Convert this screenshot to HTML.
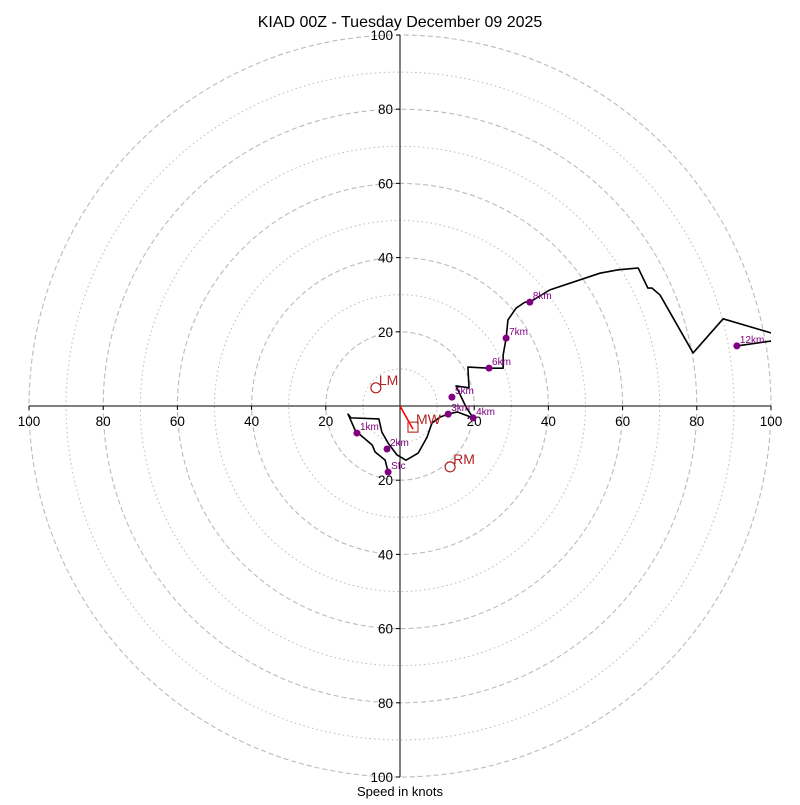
<!DOCTYPE html>
<html><head><meta charset="utf-8"><style>
body{margin:0;background:#fff;}
svg text{font-family:"Liberation Sans","DejaVu Sans",sans-serif;}
</style></head><body>
<svg id="c" width="800" height="800" viewBox="0 0 800 800">
<defs><clipPath id="clip"><rect x="29" y="35" width="742" height="742"/></clipPath></defs>
<rect width="800" height="800" fill="#fff"/>
<text x="400" y="27" font-size="16" text-anchor="middle">KIAD 00Z - Tuesday December 09 2025</text>
<text x="400" y="796" font-size="13" text-anchor="middle">Speed in knots</text>
<g id="rings"></g><g id="axes"></g>
<g id="trace" clip-path="url(#clip)"></g><g id="marks"></g>
</svg>
<script>
const NS="http://www.w3.org/2000/svg";
const ringSpeeds=[10,20,30,40,50,60,70,80,90,100];
const tickLabels=[20,40,60,80,100];
// hodograph trace (u,v knots)
const traceU=[-3.2,-4.0,-6.7,-7.5,-10.0,-12.1,-14.0,-13.2,-5.7,-4.9,-3.2,-0.8,1.6,3.2,4.9,7.3,8.6,10.8,12.9,15.4,19.7,17.8,15.1,18.6,18.3,24.0,27.8,27.8,28.6,29.1,31.3,33.7,35.0,40.4,53.9,58.8,64.2,66.8,67.9,70.1,79.0,87.1,100.0,107.8,107.8,100.0,90.8];
const traceV=[-17.8,-14.6,-12.4,-10.5,-8.4,-6.5,-2.2,-3.2,-3.5,-7.0,-10.0,-13.2,-14.6,-13.7,-12.7,-8.4,-4.6,-3.0,-2.2,-1.6,-3.2,-0.3,5.4,4.9,10.5,10.2,10.2,13.7,18.3,23.2,26.4,28.0,28.0,31.3,35.8,36.7,37.2,31.8,31.8,29.9,14.3,23.5,19.7,17.3,18.6,17.5,16.2];
const hgtLabels=["Sfc","1km","2km","3km","4km","5km","6km","7km","8km","12km"];
const hgtU=[-3.2,-11.6,-3.5,13.0,19.7,14.0,24.0,28.6,35.0,90.8];
const hgtV=[-17.8,-7.3,-11.6,-2.2,-3.2,2.4,10.2,18.3,28.0,16.2];
const stormLabels=["LM","RM","MW"];
const stormU=[-6.5,13.5,3.5];
const stormV=[4.9,-16.4,-5.7];
const cx=400,cy=406,k=3.71;
const X=u=>cx+u*k, Y=v=>cy-v*k;
const rings=document.getElementById('rings'),axes=document.getElementById('axes'),trace=document.getElementById('trace'),marks=document.getElementById('marks');
function mk(tag,attrs,parent){const e=document.createElementNS(NS,tag);for(const a in attrs)e.setAttribute(a,attrs[a]);parent.appendChild(e);return e;}
ringSpeeds.forEach(s=>{
  const c=mk('circle',{cx:cx,cy:cy,r:s*k,fill:'none',stroke:'#bbb','stroke-width':s%20===0?1.1:1,'stroke-dasharray':s%20===0?'5,3':'1.5,3'},rings);
  
  
});
let l=mk('line',{x1:X(-100),y1:cy,x2:X(100),y2:cy,stroke:'#000','stroke-width':1},axes);


l=mk('line',{x1:cx,y1:Y(100),x2:cx,y2:Y(-100),stroke:'#000','stroke-width':1},axes);


tickLabels.forEach(t=>{
  [-1,1].forEach(sg=>{
    mk('line',{x1:X(sg*t),y1:cy,x2:X(sg*t),y2:cy+4,stroke:'#000'},axes);
    let tx=mk('text',{x:X(sg*t),y:cy+20,'font-size':13.5,'text-anchor':'middle'},axes);
    tx.textContent=t;
    
    
    mk('line',{x1:cx-4,y1:Y(sg*t),x2:cx,y2:Y(sg*t),stroke:'#000'},axes);
    let ty=mk('text',{x:cx-7,y:Y(sg*t)+5,'font-size':13.5,'text-anchor':'end'},axes);
    ty.textContent=t;
    
    
  });
});
const pl=mk('polyline',{points:traceU.map((u,i)=>X(u)+','+Y(traceV[i])).join(' '),fill:'none',stroke:'#000','stroke-width':1.6,'stroke-linejoin':'round'},trace);


hgtLabels.forEach((h,i)=>{
  const d=mk('circle',{cx:X(hgtU[i]),cy:Y(hgtV[i]),r:3.5,fill:'purple'},marks);
  
  
  const t=mk('text',{x:X(hgtU[i])+3,y:Y(hgtV[i])-3,'font-size':10,fill:'purple'},marks);
  t.textContent=h;
  
  
});
const ar=mk('line',{x1:cx,y1:cy,x2:X(stormU[2]),y2:Y(stormV[2])+2,stroke:'red','stroke-width':1.6},marks);


stormLabels.forEach((s,i)=>{
  const x=X(stormU[i]),y=Y(stormV[i]);
  let m;
  if(s==='MW') m=mk('rect',{x:x-5,y:y-5,width:10,height:10,fill:'none',stroke:'#c0392b','stroke-width':1.2},marks);
  else m=mk('circle',{cx:x,cy:y,r:5,fill:'none',stroke:'#b22222','stroke-width':1.2},marks);
  
  
  const t=mk('text',{x:x+3,y:y-3,'font-size':14,fill:'#b22222'},marks);
  t.textContent=s;
  
  
});
</script>
</body></html>
